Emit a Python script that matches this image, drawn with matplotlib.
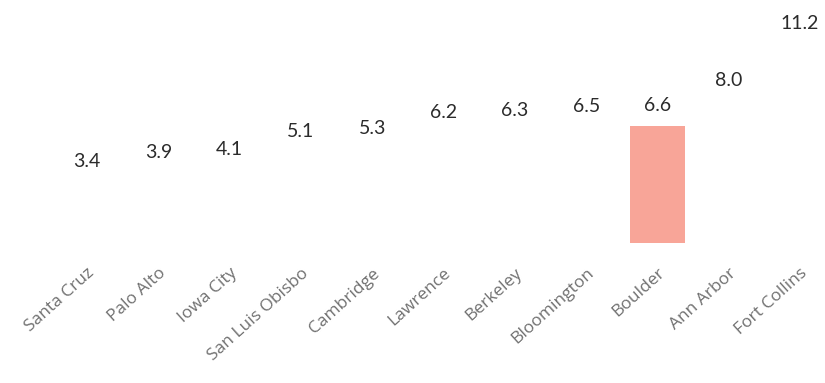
import matplotlib
matplotlib.use("Agg")
import matplotlib.pyplot as plt
from matplotlib.transforms import ScaledTranslation

cities = ["Santa Cruz", "Palo Alto", "Iowa City", "San Luis Obisbo", "Cambridge",
          "Lawrence", "Berkeley", "Bloomington", "Boulder", "Ann Arbor", "Fort Collins"]
values = [3.4, 3.9, 4.1, 5.1, 5.3, 6.2, 6.3, 6.5, 6.6, 8.0, 11.2]
highlight = "Boulder"

plt.rcParams['font.family'] = ['Lato', 'DejaVu Sans']

fig = plt.figure(figsize=(8.25, 3.83), dpi=100)
ax = fig.add_axes([0.0, 0.3655, 1.0, 0.6345])

colors = ['#f8a598' if c == highlight else 'white' for c in cities]
x = list(range(len(cities)))
bars = ax.bar(x, values, width=0.76, color=colors)

for xi, v in zip(x, values):
    ax.annotate(f"{v:.1f}", (xi, v), xytext=(0, 9), textcoords='offset points',
                ha='center', va='bottom', fontsize=14, color='#2b2b2b')

ax.set_xlim(-1.22, 10.35)
ax.set_ylim(0, 13.73)
ax.set_xticks(x)
ax.set_xticklabels(cities, rotation=42, ha='right', rotation_mode='anchor',
                   fontsize=12.5, color='#707070')
shift = ScaledTranslation(-6 / 100, 0, fig.dpi_scale_trans)
for lab in ax.get_xticklabels():
    lab.set_fontfamily(['Open Sans', 'DejaVu Sans'])
    lab.set_transform(lab.get_transform() + shift)
ax.tick_params(axis='x', length=0, pad=16)
ax.set_yticks([])
for s in ax.spines.values():
    s.set_visible(False)

fig.savefig("out.png", dpi=100)
